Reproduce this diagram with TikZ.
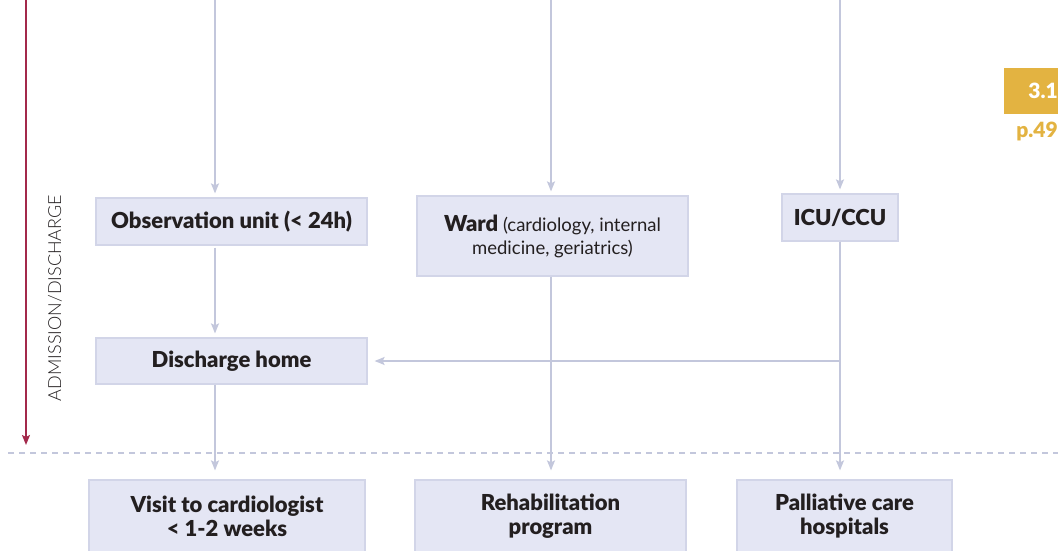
\documentclass[tikz,border=0pt]{standalone}
\usepackage{fontspec}
\setmainfont{Lato}[BoldFont={Lato Black}]
\newfontfamily\lightfont{Lato Light}
\usetikzlibrary{arrows.meta}
\definecolor{boxfill}{HTML}{E4E6F4}
\definecolor{boxline}{HTML}{D2D5E8}
\definecolor{flow}{HTML}{C3C7DC}
\definecolor{timeline}{HTML}{A3294B}
\definecolor{gold}{HTML}{E3B341}
\definecolor{txt}{HTML}{231F20}
\tikzset{
  box/.style={draw=boxline, line width=1.2pt, fill=boxfill, inner sep=0pt,
    align=center, text=txt, font=\fontsize{22}{24}\selectfont},
  flowarrow/.style={draw=flow, line width=1.5pt,
    -{Stealth[length=10pt,width=8pt,inset=2pt]}},
  timearrow/.style={draw=timeline, line width=1.5pt,
    -{Stealth[length=10pt,width=8pt,inset=2pt]}},
}
\begin{document}
\begin{tikzpicture}[x=1pt,y=1pt]
\clip (0,0) rectangle (1058,-551);
\useasboundingbox (0,0) rectangle (1058,-551);

% stage boxes
\node[box, minimum width=271, minimum height=47] (obs) at (231.5,-221.5)
  {\textbf{Observation unit (< 24h)}};
\node[box, minimum width=271, minimum height=80, font=\fontsize{18.5}{23}\selectfont] (ward) at (552.5,-236)
  {{\fontsize{22}{23}\selectfont\textbf{Ward}} (cardiology, internal\\medicine, geriatrics)};
\node[box, minimum width=116, minimum height=47] (icu) at (840,-217.5)
  {\textbf{ICU/CCU}};
\node[box, minimum width=271, minimum height=46] (home) at (231.5,-361)
  {\textbf{Discharge home}};
\node[box, minimum width=276, minimum height=72] (visit) at (227,-516)
  {\textbf{Visit to cardiologist}\\\textbf{< 1-2 weeks}};
\node[box, minimum width=271, minimum height=72] (rehab) at (550.5,-516)
  {\textbf{Rehabilitation}\\\textbf{program}};
\node[box, minimum width=215, minimum height=72] (pall) at (844.5,-516)
  {\textbf{Palliative care}\\\textbf{hospitals}};

% incoming flows from above
\coordinate (in1) at (215,0);
\coordinate (in2) at (551,0);
\coordinate (in3) at (840,0);
\draw[flowarrow, shorten >=4pt] (in1) -- (in1 |- obs.north);
\draw[flowarrow, shorten >=4pt] (in2) -- (in2 |- ward.north);
\draw[flowarrow, shorten >=4pt] (in3) -- (in3 |- icu.north);

% flows between stages
\draw[flowarrow, shorten <=2pt, shorten >=4pt] (in1 |- obs.south) -- (in1 |- home.north);
\draw[flowarrow, shorten >=9pt] (in1 |- home.south) -- (in1 |- visit.north);
\draw[flowarrow, shorten >=9pt] (in2 |- ward.south) -- (in2 |- rehab.north);
\draw[flowarrow, shorten >=9pt] (icu.south) -- (icu.south |- pall.north);
\draw[flowarrow, shorten >=7pt] (icu.south) |- (home.east);

% admission/discharge boundary
\coordinate (dashL) at (8,-453);
\coordinate (dashR) at (1058,-453);
\draw[flow, line width=1.2pt, dash pattern=on 6pt off 5pt] (dashL) -- (dashR);

% time axis
\coordinate (tTop) at (26,0);
\coordinate (tEnd) at (26,-445);
\draw[timearrow] (tTop) -- (tEnd);
\node[rotate=90, text=txt, font=\fontsize{18}{20}\selectfont\lightfont] (axis) at (55,-298)
  {ADMISSION/DISCHARGE};

% section tab
\node[fill=gold, minimum width=54, minimum height=46, inner sep=0pt, anchor=north west]
  (tab) at (1004,-68) {};
\node[anchor=east, inner sep=0pt, text=white, font=\fontsize{21}{22}\selectfont\bfseries]
  (tabnum) at (1058,-91) {3.1};
\node[anchor=east, inner sep=0pt, text=gold, font=\fontsize{21}{22}\selectfont\bfseries]
  (page) at (1058,-131) {p.49};
\end{tikzpicture}
\end{document}
